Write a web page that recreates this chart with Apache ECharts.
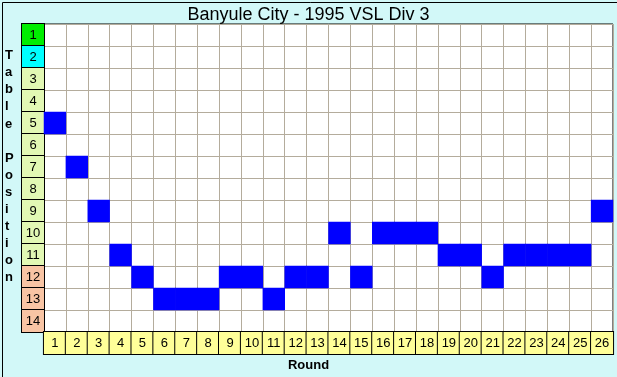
<!DOCTYPE html>
<html>
<head>
<meta charset="utf-8">
<script src="https://cdn.jsdelivr.net/npm/echarts@6/dist/echarts.min.js"></script>
<style>
  html, body { margin: 0; padding: 0; }
  #chart { width: 617px; height: 377px; }
</style>
</head>
<body>
<div id="chart"></div>
<script>
// rounds along the bottom, ladder positions down the side
var rounds = ['1', '2', '3', '4', '5', '6', '7', '8', '9', '10', '11', '12', '13',
  '14', '15', '16', '17', '18', '19', '20', '21', '22', '23', '24', '25', '26']
var positions = ['1', '2', '3', '4', '5', '6', '7', '8', '9', '10', '11', '12', '13', '14']
// table position after each round
var tablePosition = [5, 7, 9, 11, 12, 13, 13, 13, 12, 12, 13, 12, 12,
  10, 12, 10, 10, 10, 11, 11, 12, 11, 11, 11, 11, 9]

var chart = echarts.init(document.getElementById('chart'))

var cells = tablePosition.map(function (p, i) {
  return [i, String(p), 1]
})

function cellStyle(bg) {
  return {
    width: 22,
    height: 22,
    lineHeight: 22,
    align: 'center',
    fontSize: 13,
    fontFamily: 'Liberation Sans, Arial, sans-serif',
    color: '#000',
    backgroundColor: bg,
    borderColor: '#000',
    borderWidth: 1
  }
}

function posKey(v) {
  var n = Number(v)
  if (n === 1) return 'top'
  if (n === 2) return 'second'
  if (n >= 12) return 'low'
  return 'mid'
}

var axisName = 'Table Position'.split('').join('\n')

chart.setOption({
  backgroundColor: '#d2f8f8',
  animation: false,
  title: {
    text: 'Banyule City - 1995 VSL Div 3',
    left: 'center',
    top: 1,
    textStyle: {
      fontFamily: 'Liberation Sans, Arial, sans-serif',
      fontSize: 18,
      fontWeight: 'normal',
      color: '#000'
    }
  },
  grid: {
    left: 44,
    top: 24,
    width: 572,
    height: 308,
    show: true,
    backgroundColor: '#fff',
    borderColor: '#000',
    borderWidth: 1
  },
  xAxis: {
    type: 'category',
    data: rounds,
    axisLine: { show: false },
    axisTick: { show: false },
    splitLine: { show: true, interval: 0, lineStyle: { color: '#b4ac9c', width: 1 } },
    axisLabel: {
      interval: 0,
      margin: 0,
      formatter: function (v) { return '{x|' + v + '}' },
      rich: { x: cellStyle('#ffff99') }
    }
  },
  yAxis: {
    type: 'category',
    data: positions,
    inverse: true,
    axisLine: { show: false },
    axisTick: { show: false },
    splitLine: { show: true, interval: 0, lineStyle: { color: '#b4ac9c', width: 1 } },
    axisLabel: {
      interval: 0,
      margin: 0,
      formatter: function (v) { return '{' + posKey(v) + '|' + v + '}' },
      rich: {
        top: cellStyle('#00ee00'),
        second: cellStyle('#00ffff'),
        mid: cellStyle('#e2f8b4'),
        low: cellStyle('#f8c4a4')
      }
    }
  },
  visualMap: {
    show: false,
    min: 0,
    max: 1,
    inRange: { color: ['#0000ff', '#0000ff'] }
  },
  graphic: [
    {
      type: 'text',
      left: 5,
      top: 47,
      style: {
        text: axisName,
        font: 'bold 13px Liberation Sans, Arial, sans-serif',
        lineHeight: 17.1,
        fill: '#000',
        align: 'center',
        width: 12
      }
    },
    {
      type: 'text',
      left: 'center',
      top: 359,
      style: {
        text: 'Round',
        font: 'bold 13px Liberation Sans, Arial, sans-serif',
        fill: '#000'
      }
    },
    {
      type: 'rect',
      left: 0,
      top: 0,
      silent: true,
      shape: { x: 0.5, y: 0.5, width: 616, height: 376 },
      style: { fill: 'none', stroke: '#000', lineWidth: 1 }
    }
  ],
  series: [{
    type: 'heatmap',
    data: cells,
    itemStyle: { borderWidth: 0 }
  }]
})
</script>
</body>
</html>
